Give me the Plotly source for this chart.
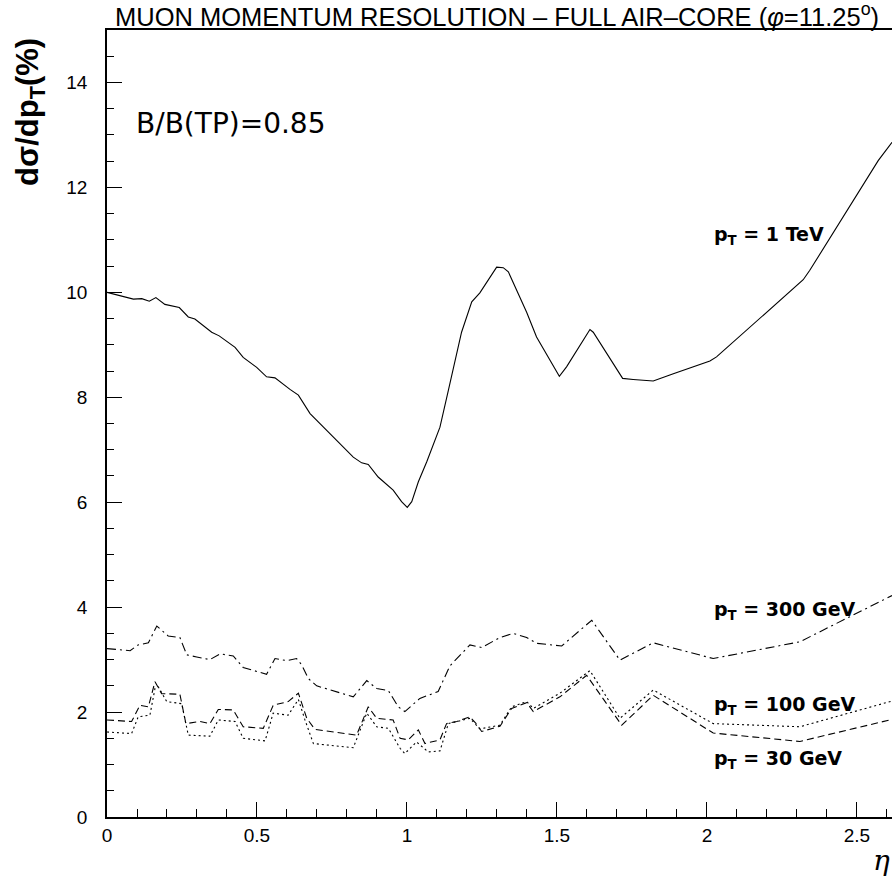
import plotly.graph_objects as go

# ---- data (eta, resolution %) ----
eta_1tev = [0.0, 0.043, 0.088, 0.116, 0.141, 0.163, 0.193, 0.241, 0.271, 0.293, 0.349, 0.374, 0.427, 0.454,
            0.499, 0.532, 0.56, 0.61, 0.638, 0.677, 0.71, 0.821, 0.849, 0.871, 0.904, 0.954, 0.982, 1.001,
            1.016, 1.038, 1.066, 1.11, 1.138, 1.182, 1.216, 1.243, 1.299, 1.321, 1.338, 1.399, 1.432, 1.508,
            1.532, 1.588, 1.61, 1.621, 1.719, 1.754, 1.821, 1.888, 2.01, 2.032, 2.321, 2.343, 2.571, 2.617]
res_1tev = [10.0, 9.94, 9.87, 9.88, 9.83, 9.90, 9.77, 9.71, 9.53, 9.49, 9.24, 9.17, 8.95, 8.76,
            8.57, 8.39, 8.37, 8.15, 8.04, 7.69, 7.50, 6.86, 6.75, 6.72, 6.48, 6.23, 6.01, 5.90,
            6.01, 6.39, 6.77, 7.43, 8.13, 9.24, 9.82, 9.99, 10.48, 10.47, 10.39, 9.62, 9.15, 8.40,
            8.58, 9.09, 9.29, 9.24, 8.36, 8.34, 8.31, 8.45, 8.69, 8.77, 10.24, 10.42, 12.51, 12.86]

eta_300 = [0.0, 0.077, 0.104, 0.138, 0.166, 0.182, 0.204, 0.243, 0.266, 0.299, 0.343, 0.377, 0.421, 0.454,
           0.532, 0.56, 0.599, 0.632, 0.649, 0.671, 0.699, 0.821, 0.866, 0.899, 0.938, 0.971, 0.993, 1.043,
           1.104, 1.143, 1.21, 1.249, 1.31, 1.354, 1.399, 1.432, 1.516, 1.577, 1.616, 1.632, 1.71, 1.821,
           2.021, 2.31, 2.617]
res_300 = [3.21, 3.17, 3.28, 3.32, 3.64, 3.56, 3.45, 3.42, 3.09, 3.05, 3.00, 3.11, 3.07, 2.85,
           2.72, 3.02, 2.98, 3.02, 2.90, 2.64, 2.50, 2.29, 2.60, 2.45, 2.41, 2.10, 2.01, 2.26,
           2.39, 2.88, 3.28, 3.23, 3.42, 3.50, 3.42, 3.31, 3.26, 3.56, 3.75, 3.62, 2.99, 3.32,
           3.02, 3.34, 4.22]

eta_100 = [0.0, 0.082, 0.104, 0.143, 0.16, 0.171, 0.199, 0.249, 0.271, 0.343, 0.371, 0.427, 0.454, 0.527,
           0.554, 0.604, 0.638, 0.66, 0.688, 0.821, 0.866, 0.899, 0.938, 0.977, 0.993, 1.032, 1.071, 1.11,
           1.138, 1.21, 1.243, 1.31, 1.349, 1.399, 1.421, 1.51, 1.61, 1.71, 1.821, 2.021, 2.31, 2.617]
res_100 = [1.62, 1.59, 1.91, 1.94, 2.45, 2.48, 2.20, 2.16, 1.56, 1.54, 1.85, 1.82, 1.50, 1.45,
           1.98, 1.94, 2.24, 1.85, 1.40, 1.32, 1.98, 1.72, 1.69, 1.31, 1.21, 1.43, 1.24, 1.26,
           1.78, 1.88, 1.68, 1.75, 2.10, 2.20, 2.07, 2.36, 2.79, 1.88, 2.42, 1.78, 1.72, 2.21]

eta_30 = [0.0, 0.082, 0.11, 0.138, 0.16, 0.182, 0.243, 0.263, 0.31, 0.343, 0.371, 0.421, 0.454, 0.521,
          0.554, 0.604, 0.638, 0.666, 0.693, 0.832, 0.871, 0.899, 0.954, 0.977, 1.004, 1.038, 1.06, 1.11,
          1.132, 1.166, 1.21, 1.232, 1.249, 1.31, 1.349, 1.399, 1.421, 1.51, 1.599, 1.716, 1.821, 2.021,
          2.31, 2.617]
res_30 = [1.85, 1.82, 2.13, 2.10, 2.58, 2.35, 2.34, 1.78, 1.82, 1.78, 2.05, 2.04, 1.72, 1.69,
          2.13, 2.20, 2.36, 1.88, 1.67, 1.56, 2.10, 1.88, 1.85, 1.50, 1.47, 1.66, 1.40, 1.47,
          1.78, 1.82, 1.91, 1.77, 1.63, 1.73, 2.07, 2.18, 2.01, 2.29, 2.70, 1.75, 2.32, 1.60,
          1.44, 1.86]

curve_labels = ["p<sub>T</sub> = 1 TeV", "p<sub>T</sub> = 300 GeV",
                "p<sub>T</sub> = 100 GeV", "p<sub>T</sub> = 30 GeV"]
label_pos = [(2.017, 11.09), (2.017, 3.94), (2.017, 2.13), (2.017, 1.09)]

title_text = "MUON MOMENTUM RESOLUTION – FULL AIR–CORE (<i>φ</i>=11.25<sup>o</sup>)"
x_ticks = [0, 0.5, 1, 1.5, 2, 2.5]
x_ticklabels = ["0", "0.5", "1", "1.5", "2", "2.5"]
y_ticks = [0, 2, 4, 6, 8, 10, 12, 14]

fig = go.Figure()
series = [
    (eta_1tev, res_1tev, "solid"),
    (eta_300, res_300, "9px,4px,2px,4px"),
    (eta_100, res_100, "2px,3px"),
    (eta_30, res_30, "7px,4px"),
]
for xs, ys, dash in series:
    fig.add_trace(go.Scatter(x=xs, y=ys, mode="lines", line=dict(color="black", width=1.1, dash=dash),
                             showlegend=False, hoverinfo="skip"))

tickfont = dict(family="Liberation Sans, Arial, sans-serif", size=19, color="black")
fig.update_xaxes(range=[0, 2.617], tickvals=x_ticks, ticktext=x_ticklabels, ticks="inside", ticklen=15,
                 tickwidth=1, tickcolor="black", showline=True, linecolor="black", linewidth=1.5,
                 mirror=True, showgrid=False, zeroline=False, tickfont=tickfont,
                 minor=dict(ticks="inside", ticklen=8, dtick=0.1, tick0=0, tickcolor="black", showgrid=False),
                 ticklabelstandoff=0)
fig.update_yaxes(range=[0, 15], tickvals=y_ticks, ticks="inside", ticklen=15, tickwidth=1, tickcolor="black",
                 showline=True, linecolor="black", linewidth=1.5, showgrid=False, zeroline=False,
                 tickfont=tickfont,
                 minor=dict(ticks="inside", ticklen=7, dtick=0.5, tick0=0, tickcolor="black", showgrid=False),
                 ticklabelstandoff=14)

ann = []
for txt, (x, y) in zip(curve_labels, label_pos):
    ann.append(dict(x=x, y=y, xref="x", yref="y", text="<b>" + txt + "</b>", showarrow=False,
                    xanchor="left", yanchor="middle",
                    font=dict(family="DejaVu Sans, sans-serif", size=19, color="black")))
ann.append(dict(x=(134 - 107) / 785, y=(817 - 124) / 787, xref="paper", yref="paper", text="B/B(TP)=0.85",
                showarrow=False, xanchor="left", yanchor="middle",
                font=dict(family="DejaVu Sans, sans-serif", size=28, color="black")))
ann.append(dict(x=(30 - 107) / 785, y=(817 - 112) / 787, xref="paper", yref="paper",
                text="<b>dσ/dp<sub>T</sub>(%)</b>", textangle=-90, showarrow=False,
                xanchor="center", yanchor="middle",
                font=dict(family="Liberation Sans, Arial, sans-serif", size=31, color="black")))
ann.append(dict(x=1.0, y=(817 - 860) / 787, xref="paper", yref="paper", text="<i>η</i>",
                showarrow=False, xanchor="right", yanchor="middle",
                font=dict(family="DejaVu Serif, serif", size=28, color="black")))
ann.append(dict(x=(113 - 107) / 785, y=(817 - 15) / 787, xref="paper", yref="paper", text=title_text,
                showarrow=False, xanchor="left", yanchor="middle",
                font=dict(family="Liberation Sans, Arial, sans-serif", size=25.5, color="black")))

fig.update_layout(width=892, height=882, margin=dict(l=107, r=0, t=30, b=65),
                  plot_bgcolor="white", paper_bgcolor="white", annotations=ann, showlegend=False)
fig.write_html("out.html")
